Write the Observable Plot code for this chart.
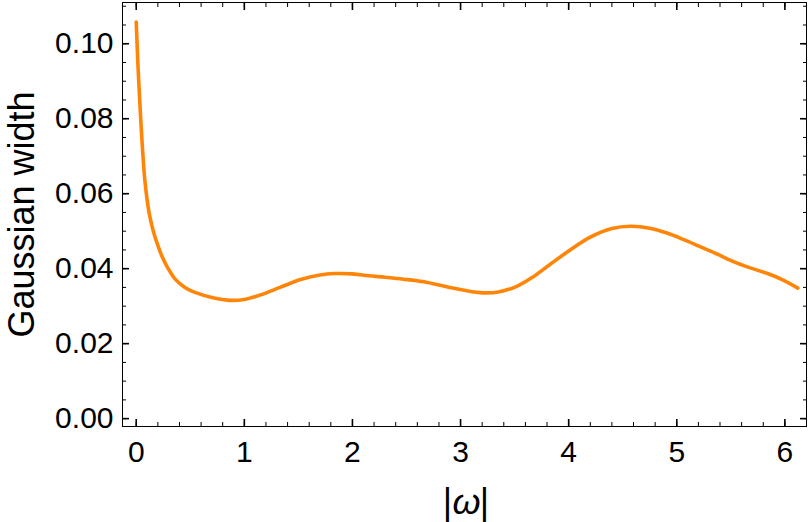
<!DOCTYPE html>
<html>
<head>
<meta charset="utf-8">
<script src="https://cdn.jsdelivr.net/npm/d3@7"></script>
<script src="https://cdn.jsdelivr.net/npm/@observablehq/plot@0.6"></script>
<style>
  html, body { margin: 0; padding: 0; background: #fff; }
  svg { display: block; }
</style>
</head>
<body>
<div id="chart"></div>
<script>
// Data
const omega = [0, 0.015, 0.031, 0.053, 0.077, 0.1, 0.125, 0.16, 0.2, 0.238, 0.29, 0.36, 0.45, 0.55, 0.7, 0.84, 1.0, 1.15, 1.33, 1.52, 1.7, 1.83, 2.0, 2.15, 2.3, 2.47, 2.66, 2.9, 3.18, 3.35, 3.52, 3.67, 3.83, 4.0, 4.2, 4.4, 4.57, 4.75, 4.91, 5.06, 5.22, 5.38, 5.53, 5.68, 5.84, 5.98, 6.12];
const gaussWidth = [0.1058, 0.095, 0.0855, 0.0742, 0.0644, 0.0585, 0.0540, 0.0498, 0.0462, 0.0433, 0.0403, 0.0372, 0.0350, 0.0336, 0.0323, 0.0316, 0.0318, 0.0330, 0.0350, 0.0371, 0.0383, 0.0387, 0.0386, 0.0381, 0.0377, 0.0372, 0.0365, 0.0350, 0.0336, 0.0338, 0.0353, 0.0378, 0.0412, 0.0447, 0.0484, 0.0507, 0.0513, 0.0508, 0.0495, 0.0478, 0.0458, 0.0438, 0.0418, 0.0402, 0.0387, 0.0370, 0.0348];

const xMajor = [0, 1, 2, 3, 4, 5, 6];
const xTickLabels = ["0", "1", "2", "3", "4", "5", "6"];
const yMajor = [0, 0.02, 0.04, 0.06, 0.08, 0.10];
const yTickLabels = ["0.00", "0.02", "0.04", "0.06", "0.08", "0.10"];
const xMinor = d3.range(0, 31).map(i => i * 0.2);
const yMinor = d3.range(0, 23).map(i => i * 0.005);

const xLabel = "|ω|";
const yLabel = "Gaussian width";

const data = omega.map((x, i) => ({x, y: gaussWidth[i]}));

const FONT = "'Liberation Sans', Arial, sans-serif";

const chart = Plot.plot({
  width: 810,
  height: 522,
  marginLeft: 122,
  marginRight: 4,
  marginTop: 2,
  marginBottom: 96,
  style: {fontFamily: FONT, background: "#fff"},
  x: {domain: [-0.127, 6.2]},
  y: {domain: [-0.0021, 0.111]},
  marks: [
    Plot.frame({stroke: "black", strokeWidth: 1}),
    // minor ticks (inward)
    Plot.axisX({anchor: "bottom", ticks: xMinor, tickSize: -4, tickFormat: () => "", label: null, strokeWidth: 1}),
    Plot.axisX({anchor: "top", ticks: xMinor, tickSize: -4, tickFormat: () => "", label: null, strokeWidth: 1}),
    Plot.axisY({anchor: "left", ticks: yMinor, tickSize: -4, tickFormat: () => "", label: null, strokeWidth: 1}),
    Plot.axisY({anchor: "right", ticks: yMinor, tickSize: -4, tickFormat: () => "", label: null, strokeWidth: 1}),
    // major ticks (inward)
    Plot.axisX({anchor: "bottom", ticks: xMajor, tickSize: -7, tickFormat: () => "", label: null, strokeWidth: 1.6}),
    Plot.axisX({anchor: "top", ticks: xMajor, tickSize: -7, tickFormat: () => "", label: null, strokeWidth: 1.6}),
    Plot.axisY({anchor: "left", ticks: yMajor, tickSize: -7, tickFormat: () => "", label: null, strokeWidth: 1.6}),
    Plot.axisY({anchor: "right", ticks: yMajor, tickSize: -7, tickFormat: () => "", label: null, strokeWidth: 1.6}),
    // tick labels
    Plot.axisX({anchor: "bottom", ticks: xMajor, tickSize: 0, tickPadding: 14,
      tickFormat: d => xTickLabels[xMajor.indexOf(d)], label: null, fontSize: 30, fill: "black"}),
    Plot.axisY({anchor: "left", ticks: yMajor, tickSize: 0, tickPadding: 9,
      tickFormat: d => yTickLabels[yMajor.findIndex(v => Math.abs(v - d) < 1e-9)], label: null, fontSize: 30, fill: "black"}),
    // curve
    Plot.line(data, {x: "x", y: "y", stroke: "#FF8508", strokeWidth: 3.6, curve: "catmull-rom"}),
    // axis labels
    Plot.text([yLabel], {frameAnchor: "left", dx: -100.5, rotate: -90, fontSize: 36, fill: "black", textAnchor: "middle", lineAnchor: "middle"}),
    Plot.text([xLabel[0]], {frameAnchor: "bottom", dx: -17, dy: 87, fontSize: 36, fill: "black", textAnchor: "middle", lineAnchor: "bottom"}),
    Plot.text([xLabel[1]], {frameAnchor: "bottom", dx: 2, dy: 87, fontSize: 36, fontStyle: "italic", fill: "black", textAnchor: "middle", lineAnchor: "bottom"}),
    Plot.text([xLabel[2]], {frameAnchor: "bottom", dx: 20, dy: 87, fontSize: 36, fill: "black", textAnchor: "middle", lineAnchor: "bottom"})
  ]
});

document.getElementById("chart").appendChild(chart);
</script>
</body>
</html>
